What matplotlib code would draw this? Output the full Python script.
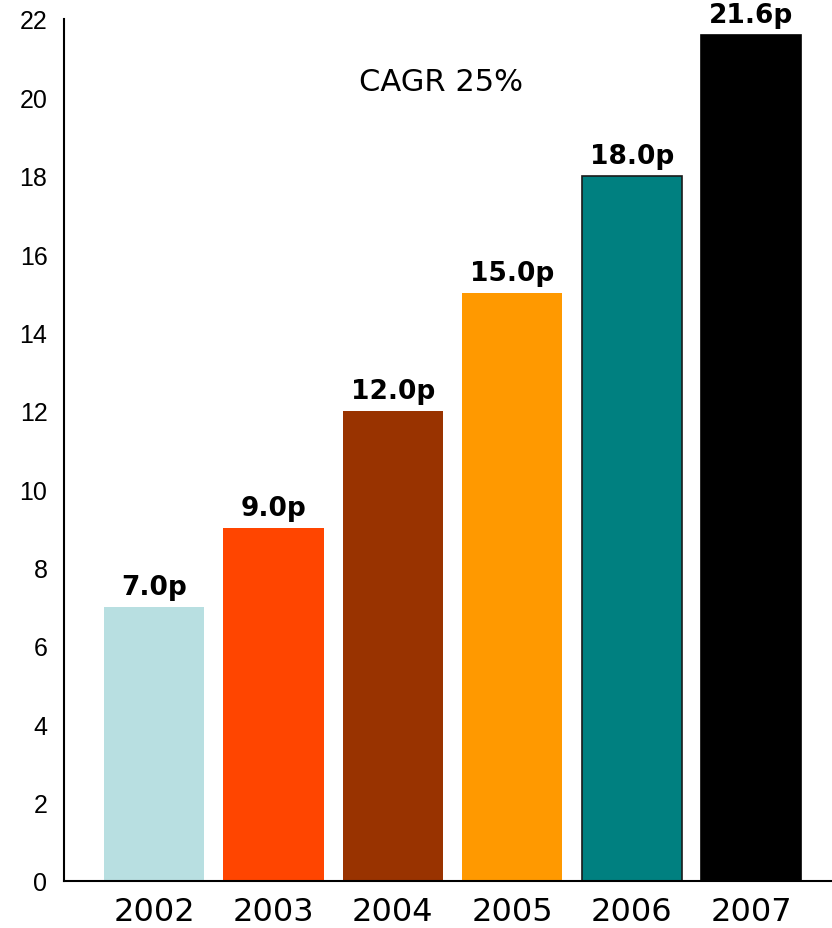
import matplotlib
matplotlib.use("Agg")
import matplotlib.pyplot as plt
import numpy as np

years = ["2002", "2003", "2004", "2005", "2006", "2007"]
dividends = [7.0, 9.0, 12.0, 15.0, 18.0, 21.6]
labels = ["7.0p", "9.0p", "12.0p", "15.0p", "18.0p", "21.6p"]
colors = ["#B8DFE1", "#FF4500", "#993300", "#FF9900", "#008080", "#000000"]
edges = ["none", "none", "none", "none", "#1a1a1a", "#000000"]

fig = plt.figure(figsize=(8.32, 9.29), dpi=100)
ax = fig.add_axes([0.077, 0.0506, 0.923, 0.928])

x = np.arange(len(years))
bars = ax.bar(x, dividends, width=0.84, color=colors, edgecolor=edges, linewidth=1.2)

for xi, v, lab in zip(x, dividends, labels):
    ax.annotate(lab, (xi, v), xytext=(0, 5), textcoords="offset points",
                ha="center", va="bottom", fontsize=19, fontweight="bold",
                family="DejaVu Sans")

ax.text(2.4, 20.4, "CAGR 25%", ha="center", va="center", fontsize=22,
        family="DejaVu Sans")

ax.set_xlim(-0.754, 5.678)
ax.set_ylim(0, 22)
ax.set_yticks(range(0, 23, 2))
ax.set_xticks(x)
ax.set_xticklabels(years, fontsize=23, family="DejaVu Sans")
for t in ax.get_yticklabels():
    t.set_fontsize(18)
    t.set_family("Liberation Sans")
ax.tick_params(axis="both", length=0)
ax.tick_params(axis="y", pad=12)
ax.tick_params(axis="x", pad=11)
for s in ["top", "right"]:
    ax.spines[s].set_visible(False)
for s in ["left", "bottom"]:
    ax.spines[s].set_linewidth(1.5)

fig.savefig("out.png", dpi=100)
